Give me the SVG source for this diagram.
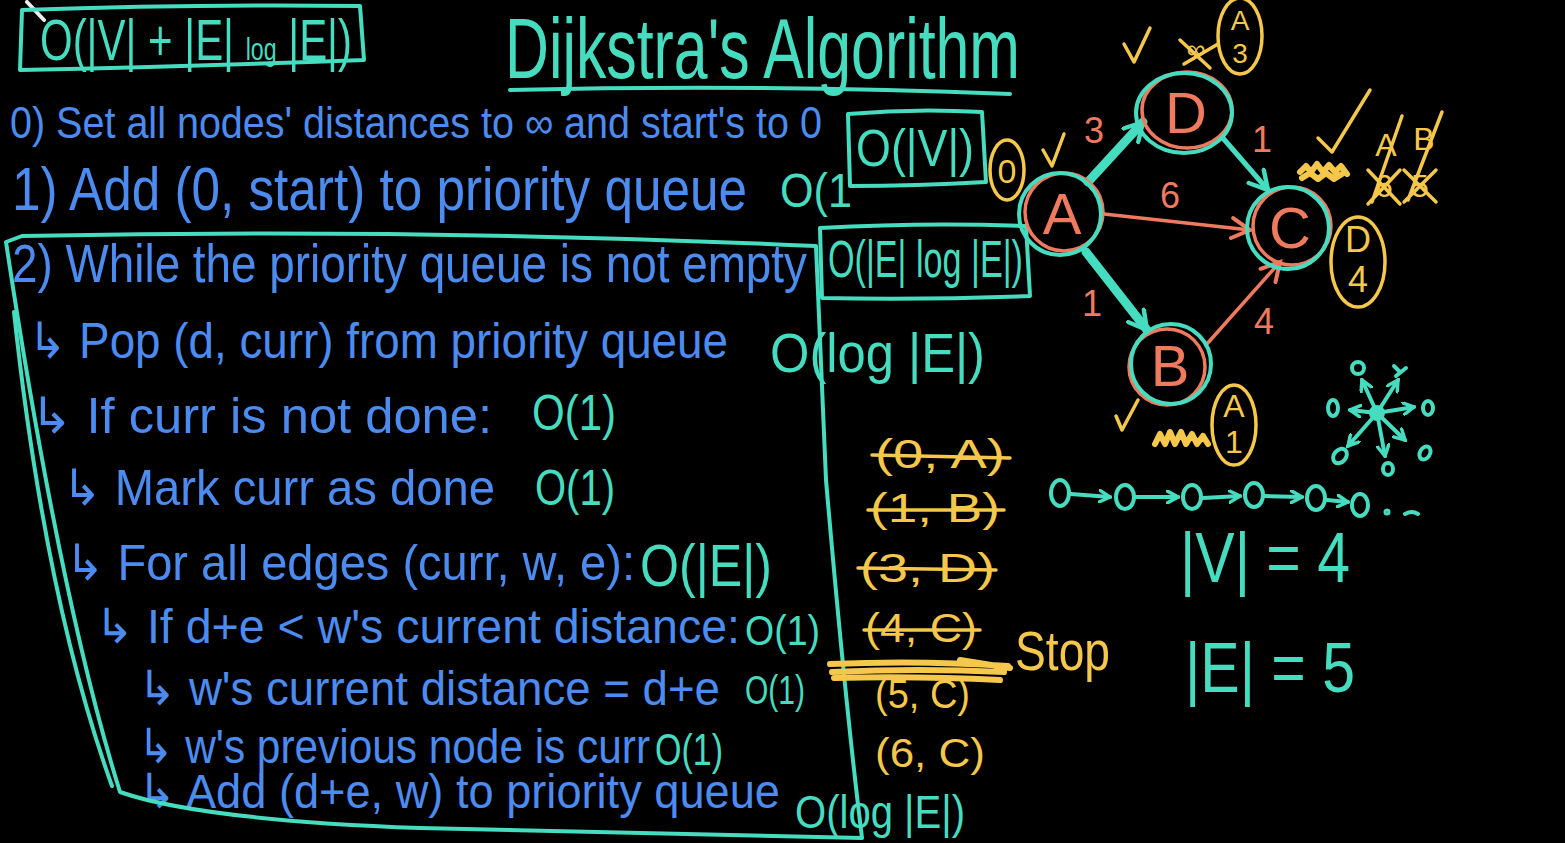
<svg xmlns="http://www.w3.org/2000/svg" width="1565" height="843" viewBox="0 0 1565 843">
<defs>
<style>
text{font-family:"Liberation Sans",Arial,"DejaVu Sans",sans-serif}
.b{fill:#4c8cf0}
.t{fill:#46dcbf}
.y{fill:#f5c84b}
.s{fill:#f07a5d}
.lt{fill:none;stroke:#46dcbf;stroke-width:4;stroke-linecap:round;stroke-linejoin:round}
.ly{fill:none;stroke:#f5c84b;stroke-width:3.5;stroke-linecap:round;stroke-linejoin:round}
.ls{fill:none;stroke:#f07a5d;stroke-width:3.5;stroke-linecap:round;stroke-linejoin:round}
</style>
<marker id="aht" viewBox="0 0 12 12" refX="10" refY="6" markerWidth="24" markerHeight="24" markerUnits="userSpaceOnUse" orient="auto"><path d="M1,1 L10,6 L1,11" fill="none" stroke="#46dcbf" stroke-width="2.2" stroke-linecap="round"/></marker>
<marker id="ahs" viewBox="0 0 12 12" refX="10" refY="6" markerWidth="24" markerHeight="24" markerUnits="userSpaceOnUse" orient="auto"><path d="M1,1 L10,6 L1,11" fill="none" stroke="#f07a5d" stroke-width="2" stroke-linecap="round"/></marker>
<marker id="ahc" viewBox="0 0 12 12" refX="10" refY="6" markerWidth="14" markerHeight="14" markerUnits="userSpaceOnUse" orient="auto"><path d="M1,1 L10,6 L1,11" fill="none" stroke="#46dcbf" stroke-width="3" stroke-linecap="round"/></marker>
</defs>
<rect width="1565" height="843" fill="#000"/>
<line x1="27" y1="2" x2="44" y2="20" stroke="#eee" stroke-width="4" stroke-linecap="round"/>

<g id="complexity">
<path class="lt" d="M22,10 Q190,4 360,6 L364,60 Q200,66 20,70 Z"/>
<text class="t" x="40" y="60" font-size="58" textLength="312" lengthAdjust="spacingAndGlyphs">O(|V| + |E| <tspan font-size="32">log</tspan> |E|)</text>
</g>

<g id="title">
<text class="t" x="505" y="78" font-size="86" textLength="515" lengthAdjust="spacingAndGlyphs">Dijkstra's Algorithm</text>
<path class="lt" d="M510,90 Q760,84 1010,94"/>
</g>

<g id="steps">
<text class="b" x="10" y="138" font-size="44" textLength="812" lengthAdjust="spacingAndGlyphs">0) Set all nodes' distances to ∞ and start's to 0</text>
<text class="b" x="12" y="210" font-size="62" textLength="735" lengthAdjust="spacingAndGlyphs">1) Add (0, start) to priority queue</text>
<text class="t" x="780" y="207" font-size="48" textLength="72" lengthAdjust="spacingAndGlyphs">O(1</text>
<text class="b" x="12" y="282" font-size="54" textLength="795" lengthAdjust="spacingAndGlyphs">2) While the priority queue is not empty</text>
<text class="b" x="28" y="358" font-size="50" textLength="700" lengthAdjust="spacingAndGlyphs">↳ Pop (d, curr) from priority queue</text>
<text class="t" x="770" y="372" font-size="56" textLength="215" lengthAdjust="spacingAndGlyphs">O(log |E|)</text>
<text class="b" x="30" y="433" font-size="50" textLength="462" lengthAdjust="spacingAndGlyphs">↳ If curr is not done:</text>
<text class="t" x="532" y="430" font-size="50" textLength="84" lengthAdjust="spacingAndGlyphs">O(1)</text>
<text class="b" x="62" y="505" font-size="50" textLength="433" lengthAdjust="spacingAndGlyphs">↳ Mark curr as done</text>
<text class="t" x="535" y="505" font-size="50" textLength="80" lengthAdjust="spacingAndGlyphs">O(1)</text>
<text class="b" x="65" y="580" font-size="50" textLength="570" lengthAdjust="spacingAndGlyphs">↳ For all edges (curr, w, e):</text>
<text class="t" x="640" y="586" font-size="60" textLength="132" lengthAdjust="spacingAndGlyphs">O(|E|)</text>
<text class="b" x="95" y="643" font-size="48" textLength="645" lengthAdjust="spacingAndGlyphs">↳ If d+e &lt; w's current distance:</text>
<text class="t" x="745" y="645" font-size="42" textLength="75" lengthAdjust="spacingAndGlyphs">O(1)</text>
<text class="b" x="138" y="705" font-size="48" textLength="582" lengthAdjust="spacingAndGlyphs">↳ w's current distance = d+e</text>
<text class="t" x="745" y="704" font-size="40" textLength="60" lengthAdjust="spacingAndGlyphs">O(1)</text>
<text class="b" x="138" y="763" font-size="48" textLength="512" lengthAdjust="spacingAndGlyphs">↳ w's previous node is curr</text>
<text class="t" x="655" y="765" font-size="44" textLength="68" lengthAdjust="spacingAndGlyphs">O(1)</text>
<text class="b" x="138" y="808" font-size="48" textLength="642" lengthAdjust="spacingAndGlyphs">↳ Add (d+e, w) to priority queue</text>
<text class="t" x="795" y="828" font-size="46" textLength="170" lengthAdjust="spacingAndGlyphs">O(log |E|)</text>
</g>

<g id="box-v">
<path class="lt" d="M848,114 Q915,108 982,112 L986,182 Q915,186 850,186 Z"/>
<text class="t" x="856" y="166" font-size="52" textLength="118" lengthAdjust="spacingAndGlyphs">O(|V|)</text>
</g>
<g id="box-e">
<path class="lt" d="M820,228 Q925,222 1026,226 L1030,296 Q925,300 822,298 Z"/>
<text class="t" x="828" y="277" font-size="52" textLength="195" lengthAdjust="spacingAndGlyphs">O(|E| log |E|)</text>
</g>
<g id="loop-box">
<path class="lt" d="M22,236 Q420,228 816,246 L826,480 Q845,700 862,838 L420,828 Q200,820 120,792 Q60,600 6,242 Z"/>
<path class="lt" d="M14,312 Q45,600 112,786"/>
</g>

<g id="connectors">
<line x1="1088" y1="182" x2="1143" y2="122" stroke="#46dcbf" stroke-width="9" stroke-linecap="round" marker-end="url(#aht)"/>
<line x1="1222" y1="137" x2="1268" y2="190" stroke="#46dcbf" stroke-width="5" stroke-linecap="round" marker-end="url(#aht)"/>
<line x1="1104" y1="214" x2="1250" y2="230" stroke="#f07a5d" stroke-width="3.5" stroke-linecap="round" marker-end="url(#ahs)"/>
<line x1="1086" y1="252" x2="1147" y2="330" stroke="#46dcbf" stroke-width="9" stroke-linecap="round" marker-end="url(#aht)"/>
<line x1="1206" y1="345" x2="1280" y2="262" stroke="#f07a5d" stroke-width="3.5" stroke-linecap="round" marker-end="url(#ahs)"/>
<text class="s" x="1084" y="143" font-size="36">3</text>
<text class="s" x="1252" y="152" font-size="36">1</text>
<text class="s" x="1160" y="208" font-size="36">6</text>
<text class="s" x="1082" y="316" font-size="36">1</text>
<text class="s" x="1254" y="334" font-size="36">4</text>
</g>

<g id="node-A">
<circle cx="1064" cy="212" r="39" class="ls"/>
<circle cx="1060" cy="214" r="41" class="lt" stroke-width="5"/>
<text class="s" x="1062" y="234" font-size="58" text-anchor="middle">A</text>
</g>
<g id="node-D">
<ellipse cx="1187" cy="110" rx="45" ry="38" class="ls"/>
<ellipse cx="1184" cy="113" rx="48" ry="40" class="lt" stroke-width="5"/>
<text class="s" x="1186" y="133" font-size="58" text-anchor="middle">D</text>
</g>
<g id="node-C">
<circle cx="1292" cy="226" r="39" class="ls"/>
<circle cx="1288" cy="228" r="41" class="lt" stroke-width="5"/>
<text class="s" x="1290" y="248" font-size="58" text-anchor="middle">C</text>
</g>
<g id="node-B">
<circle cx="1167" cy="367" r="38" class="ls"/>
<circle cx="1171" cy="364" r="40" class="lt" stroke-width="5"/>
<text class="s" x="1170" y="386" font-size="58" text-anchor="middle">B</text>
</g>

<g id="annotations">
<ellipse cx="1007" cy="170" rx="17" ry="30" class="ly"/>
<text class="y" x="1007" y="183" font-size="34" text-anchor="middle">0</text>
<path class="ly" d="M1043,150 L1052,166 L1064,134"/>
<path class="ly" d="M1124,44 L1134,62 L1150,28"/>
<text class="y" x="1196" y="58" font-size="26" text-anchor="middle">∞</text>
<path class="ly" d="M1180,40 L1210,68 M1184,64 L1218,44"/>
<ellipse cx="1240" cy="36" rx="22" ry="38" class="ly"/>
<text class="y" x="1240" y="30" font-size="28" text-anchor="middle">A</text>
<text class="y" x="1240" y="63" font-size="28" text-anchor="middle">3</text>
<path class="ly" d="M1318,138 L1332,152 L1370,90"/>
<path d="M1300,172 l6,-6 l5,6 l6,-8 l6,8 l6,-7 l6,7 l6,-6 l6,8 M1302,178 l8,-5 l8,6 l8,-6 l8,6 l8,-5" fill="none" stroke="#f5c84b" stroke-width="6" stroke-linecap="round" stroke-linejoin="round"/>
<text class="y" x="1386" y="156" font-size="32" text-anchor="middle">A</text>
<text class="y" x="1384" y="197" font-size="32" text-anchor="middle">6</text>
<text class="y" x="1424" y="150" font-size="32" text-anchor="middle">B</text>
<text class="y" x="1420" y="197" font-size="32" text-anchor="middle">5</text>
<path class="ly" d="M1372,202 L1402,116 M1408,200 L1442,112 M1368,170 L1400,204 M1368,204 L1400,170 M1404,170 L1436,202 M1404,202 L1436,170"/>
<ellipse cx="1358" cy="262" rx="27" ry="45" class="ly"/>
<text class="y" x="1358" y="252" font-size="36" text-anchor="middle">D</text>
<text class="y" x="1358" y="292" font-size="36" text-anchor="middle">4</text>
<path class="ly" d="M1116,416 L1122,430 L1138,400"/>
<path d="M1155,444 l5,-10 l5,10 l5,-12 l5,12 l6,-12 l5,12 l6,-10 l5,10 l6,-8 l5,8" fill="none" stroke="#f5c84b" stroke-width="6" stroke-linecap="round" stroke-linejoin="round"/>
<ellipse cx="1234" cy="425" rx="22" ry="40" class="ly"/>
<text class="y" x="1234" y="417" font-size="32" text-anchor="middle">A</text>
<text class="y" x="1234" y="453" font-size="32" text-anchor="middle">1</text>
</g>

<g id="queue">
<text class="y" x="875" y="468" font-size="40" textLength="130" lengthAdjust="spacingAndGlyphs">(0, A)</text>
<text class="y" x="870" y="522" font-size="40" textLength="130" lengthAdjust="spacingAndGlyphs">(1, B)</text>
<text class="y" x="860" y="582" font-size="40" textLength="135" lengthAdjust="spacingAndGlyphs">(3, D)</text>
<text class="y" x="865" y="642" font-size="40" textLength="112" lengthAdjust="spacingAndGlyphs">(4, C)</text>
<text class="y" x="875" y="708" font-size="40" textLength="95" lengthAdjust="spacingAndGlyphs">(5, C)</text>
<text class="y" x="875" y="767" font-size="40" textLength="110" lengthAdjust="spacingAndGlyphs">(6, C)</text>
<path class="ly" d="M872,455 L1010,458 M868,510 L1004,510 M858,568 L996,570 M864,630 L980,630"/>
<path d="M830,664 Q920,660 1008,666 M832,672 Q920,668 1004,672 M834,678 Q920,676 1000,680 M960,660 L1010,668" fill="none" stroke="#f5c84b" stroke-width="6" stroke-linecap="round"/>
<text class="y" x="1015" y="670" font-size="56" textLength="95" lengthAdjust="spacingAndGlyphs">Stop</text>
</g>

<g id="chain" class="lt" stroke-width="4">
<ellipse cx="1060" cy="493" rx="9" ry="13"/>
<ellipse cx="1125" cy="497" rx="9" ry="12"/>
<ellipse cx="1192" cy="497" rx="9" ry="12"/>
<ellipse cx="1254" cy="495" rx="9" ry="12"/>
<ellipse cx="1316" cy="498" rx="9" ry="12"/>
<ellipse cx="1360" cy="505" rx="8" ry="11"/>
<line x1="1071" y1="494" x2="1110" y2="497" marker-end="url(#ahc)"/>
<line x1="1136" y1="497" x2="1178" y2="497" marker-end="url(#ahc)"/>
<line x1="1203" y1="498" x2="1240" y2="496" marker-end="url(#ahc)"/>
<line x1="1265" y1="496" x2="1302" y2="497" marker-end="url(#ahc)"/>
<line x1="1327" y1="500" x2="1348" y2="502" marker-end="url(#ahc)"/>
<circle cx="1387" cy="512" r="1.5"/>
<path d="M1405,514 Q1412,510 1418,514"/>
</g>

<g id="star" class="lt" stroke-width="4">
<circle cx="1377" cy="413" r="6" fill="#46dcbf"/>
<line x1="1377" y1="413" x2="1362" y2="380" marker-end="url(#ahc)"/>
<circle cx="1358" cy="368" r="6"/>
<line x1="1377" y1="413" x2="1398" y2="380" marker-end="url(#ahc)"/>
<path d="M1396,376 L1406,368 M1400,372 L1394,366"/>
<line x1="1377" y1="413" x2="1414" y2="407" marker-end="url(#ahc)"/>
<ellipse cx="1428" cy="408" rx="5" ry="7"/>
<line x1="1377" y1="413" x2="1350" y2="410" marker-end="url(#ahc)"/>
<ellipse cx="1333" cy="408" rx="5" ry="8"/>
<line x1="1377" y1="413" x2="1348" y2="446" marker-end="url(#ahc)"/>
<ellipse cx="1340" cy="456" rx="6" ry="8" transform="rotate(40 1340 456)"/>
<line x1="1377" y1="413" x2="1385" y2="456" marker-end="url(#ahc)"/>
<ellipse cx="1388" cy="469" rx="5" ry="6"/>
<line x1="1377" y1="413" x2="1405" y2="440" marker-end="url(#ahc)"/>
<ellipse cx="1425" cy="453" rx="5" ry="7" transform="rotate(30 1425 453)"/>
</g>

<g id="sizes">
<text class="t" x="1180" y="582" font-size="70" textLength="170" lengthAdjust="spacingAndGlyphs">|V| = 4</text>
<text class="t" x="1185" y="692" font-size="70" textLength="170" lengthAdjust="spacingAndGlyphs">|E| = 5</text>
</g>
</svg>
